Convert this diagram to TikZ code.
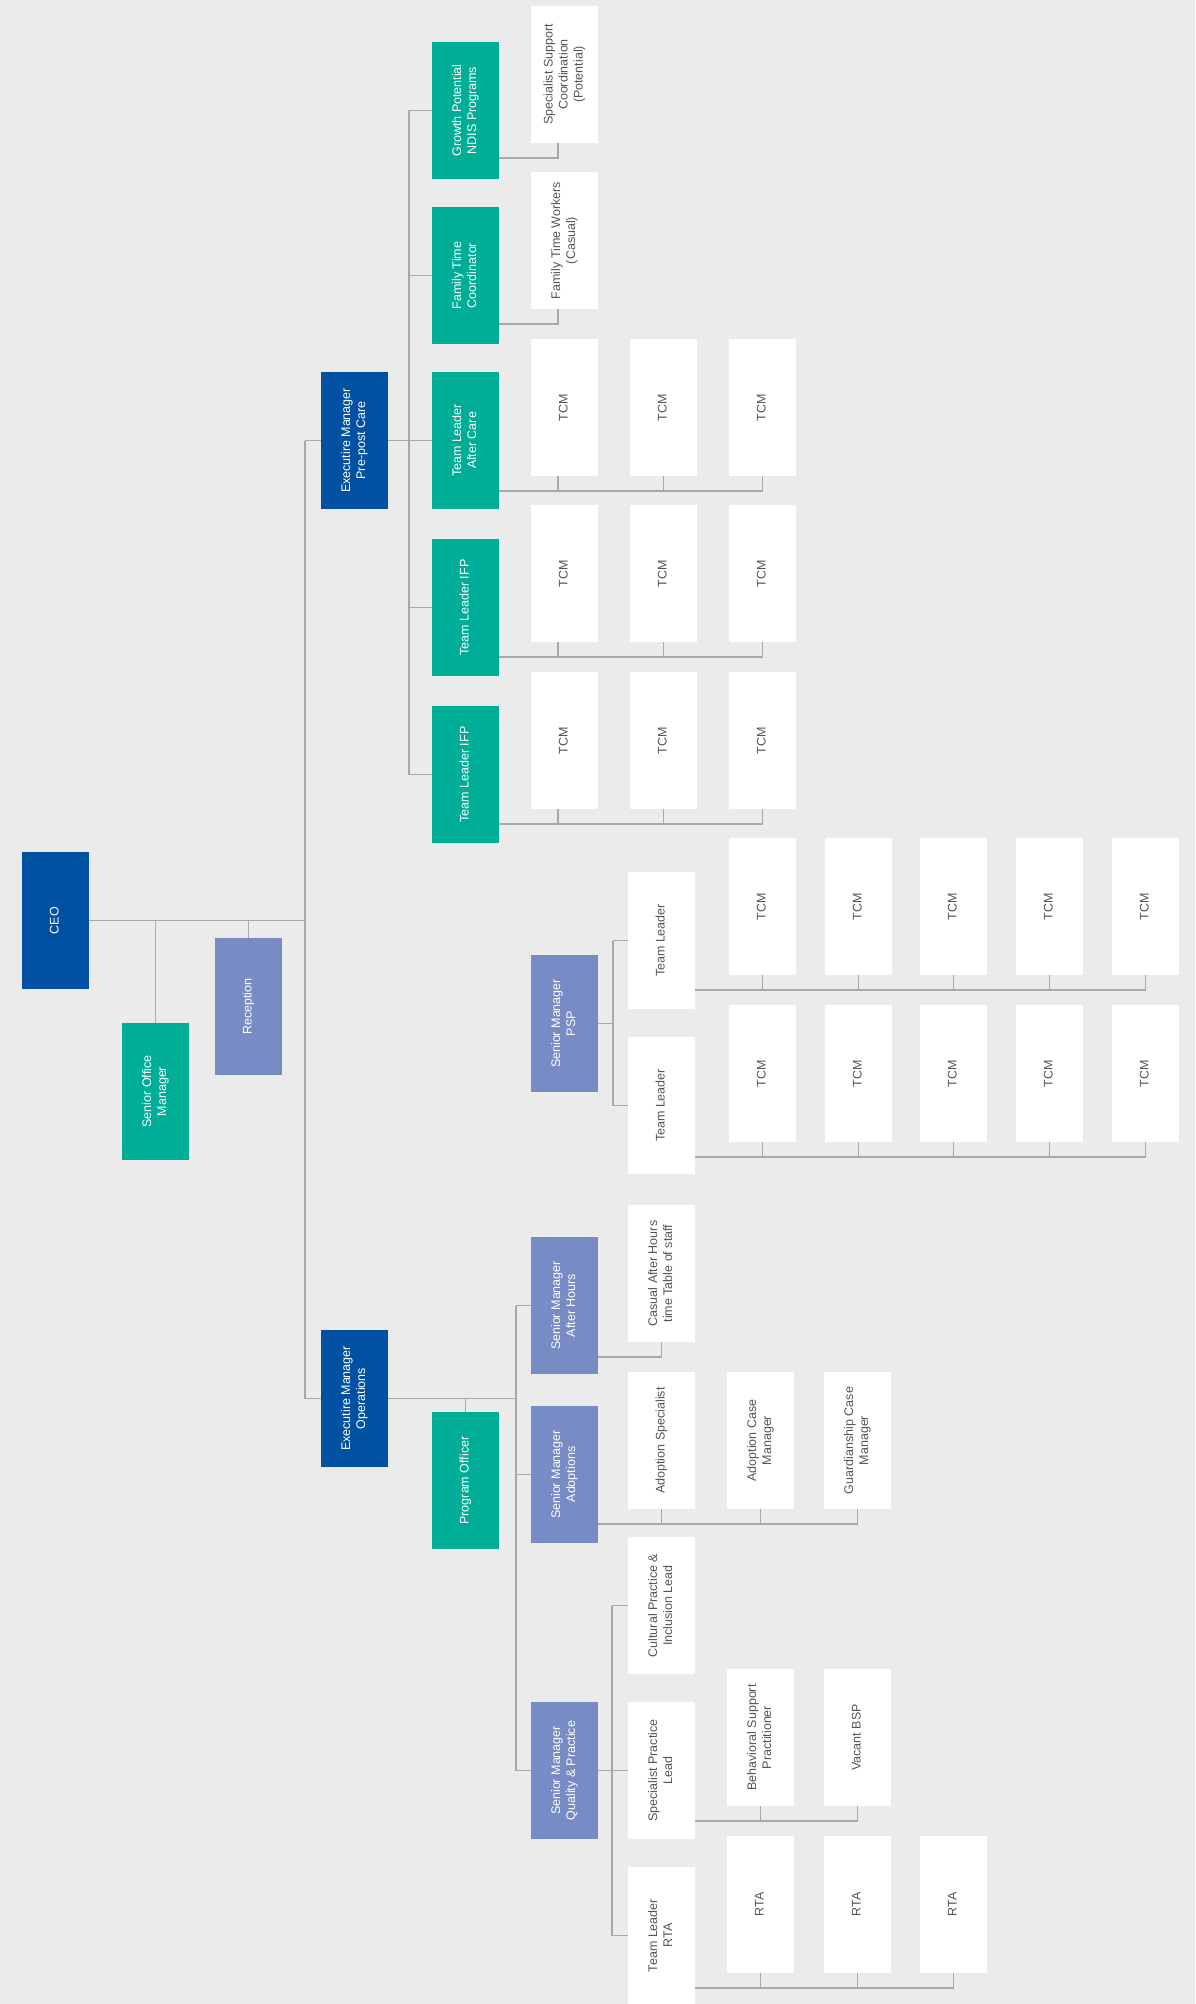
\documentclass[tikz,border=0pt]{standalone}
\usepackage{fontspec}
\setmainfont{Liberation Sans}
\usepackage{graphicx}
\usetikzlibrary{calc}
\definecolor{bgcol}{HTML}{EBEBEB}
\definecolor{dkblue}{HTML}{0051A1}
\definecolor{tealcol}{HTML}{00AE98}
\definecolor{pericol}{HTML}{778BC5}
\definecolor{linegray}{HTML}{A8A8A8}
\definecolor{txtgray}{HTML}{555555}
\newcommand{\vtxt}[1]{\rotatebox{90}{\begin{tabular}{@{}c@{}}#1\end{tabular}}}
\begin{document}
\begin{tikzpicture}[x=1pt,y=-1pt,
  box/.style={anchor=north west, minimum width=67pt, minimum height=137pt, inner sep=0pt, outer sep=0pt, font=\fontsize{12.5}{15}\selectfont},
  darkbox/.style={box, fill=dkblue, text=white},
  tealbox/.style={box, fill=tealcol, text=white},
  peribox/.style={box, fill=pericol, text=white},
  wbox/.style={box, fill=white, text=txtgray},
  conn/.style={draw=linegray, line width=1.3pt}]
\useasboundingbox (0,0) rectangle (1195,2004);
\fill[bgcol] (0,0) rectangle (1195,2004);

% ---------- nodes ----------
\node[darkbox] (ceo) at (22,852) {\vtxt{CEO}};
\node[tealbox] (som) at (122,1023) {\vtxt{Senior Office\\Manager}};
\node[peribox] (rec) at (215,938) {\vtxt{Reception}};
\node[darkbox] (empp) at (321,372) {\vtxt{Executire Manager\\Pre-post Care}};
\node[darkbox] (emop) at (321,1330) {\vtxt{Executire Manager\\Operations}};

% Pre-post care branch
\node[tealbox] (gp) at (432,42) {\vtxt{Growth Potential\\NDIS Programs}};
\node[wbox] (ssc) at (531,6) {\vtxt{Specialist Support\\Coordination\\(Potential)}};
\node[tealbox] (ftc) at (432,207) {\vtxt{Family Time\\Coordinator}};
\node[wbox] (ftw) at (531,172) {\vtxt{Family Time Workers\\(Casual)}};
\node[tealbox] (tlac) at (432,372) {\vtxt{Team Leader\\After Care}};
\node[tealbox] (tli) at (432,539) {\vtxt{Team Leader IFP}};
\node[tealbox] (tlj) at (432,706) {\vtxt{Team Leader IFP}};
\foreach \i/\x in {1/531,2/630,3/729}{
  \node[wbox] (a\i) at (\x,339) {\vtxt{TCM}};
  \node[wbox] (b\i) at (\x,505) {\vtxt{TCM}};
  \node[wbox] (c\i) at (\x,672) {\vtxt{TCM}};
}

% PSP
\node[peribox] (psp) at (531,955) {\vtxt{Senior Manager\\PSP}};
\node[wbox] (tlp) at (628,872) {\vtxt{Team Leader}};
\node[wbox] (tlq) at (628,1037) {\vtxt{Team Leader}};
\foreach \i/\x in {1/729,2/825,3/920,4/1016,5/1112}{
  \node[wbox] (d\i) at (\x,838) {\vtxt{TCM}};
  \node[wbox] (e\i) at (\x,1005) {\vtxt{TCM}};
}

% Operations branch
\node[peribox] (smah) at (531,1237) {\vtxt{Senior Manager\\After Hours}};
\node[wbox] (cah) at (628,1205) {\vtxt{Casual After Hours\\time Table of staff}};
\node[tealbox] (po) at (432,1412) {\vtxt{Program Officer}};
\node[peribox] (smad) at (531,1406) {\vtxt{Senior Manager\\Adoptions}};
\node[wbox] (ads) at (628,1372) {\vtxt{Adoption Specialist}};
\node[wbox] (acm) at (727,1372) {\vtxt{Adoption Case\\Manager}};
\node[wbox] (gcm) at (824,1372) {\vtxt{Guardianship Case\\Manager}};
\node[peribox] (smqp) at (531,1702) {\vtxt{Senior Manager\\Quality \& Practice}};
\node[wbox] (cpil) at (628,1537) {\vtxt{Cultural Practice \&\\Inclusion Lead}};
\node[wbox] (spl) at (628,1702) {\vtxt{Specialist Practice\\Lead}};
\node[wbox] (bsp) at (727,1669) {\vtxt{Behavioral Support\\Practitioner}};
\node[wbox] (vbsp) at (824,1669) {\vtxt{Vacant BSP}};
\node[wbox] (tlrta) at (628,1867) {\vtxt{Team Leader\\RTA}};
\foreach \i/\x in {1/727,2/824,3/920}{
  \node[wbox] (r\i) at (\x,1836) {\vtxt{RTA}};
}

% ---------- connectors ----------
% top level
\coordinate (trunk) at ([xshift=216pt]ceo.east);
\draw[conn] (ceo.east) -- (trunk);
\draw[conn] (som.north |- ceo.east) -- (som.north);
\draw[conn] (rec.north |- ceo.east) -- (rec.north);
\draw[conn] (trunk |- empp.west) -- (trunk |- emop.west);
\draw[conn] (trunk |- empp.west) -- (empp.west);
\draw[conn] (trunk |- emop.west) -- (emop.west);

% pre-post care
\coordinate (ppt) at ([xshift=21pt]empp.east);
\draw[conn] (ppt |- gp.west) -- (ppt |- tlj.west);
\foreach \n in {gp,ftc,tli,tlj} \draw[conn] (ppt |- \n.west) -- (\n.west);
\draw[conn] (empp.east) -- (tlac.west);

\coordinate (gb) at ([xshift=-6.5pt,yshift=-15pt]ssc.south);
\draw[conn] (gp.east |- gb) -| ([xshift=-6.5pt]ssc.south);
\coordinate (fb) at ([xshift=-6.5pt,yshift=-15pt]ftw.south);
\draw[conn] (ftc.east |- fb) -| ([xshift=-6.5pt]ftw.south);

\foreach \p/\r in {tlac/a,tli/b,tlj/c}{
  \coordinate (bus) at ([yshift=-15pt]\r3.south);
  \draw[conn] (\p.east |- bus) -| (\r3.south);
  \draw[conn] (\r2.south) -- (\r2.south |- bus);
  \draw[conn] ([xshift=-6.5pt]\r1.south) -- ([xshift=-6.5pt]\r1.south |- bus);
}

% PSP
\coordinate (pst) at ([xshift=15pt]psp.east);
\draw[conn] (psp.east) -- (pst);
\draw[conn] (pst |- tlp.west) -- (pst |- tlq.west);
\draw[conn] (pst |- tlp.west) -- (tlp.west);
\draw[conn] (pst |- tlq.west) -- (tlq.west);
\foreach \p/\r in {tlp/d,tlq/e}{
  \coordinate (bus) at ([yshift=-15pt]\r5.south);
  \draw[conn] (\p.east |- bus) -| (\r5.south);
  \foreach \k in {1,2,3,4} \draw[conn] (\r\k.south) -- (\r\k.south |- bus);
}

% operations
\coordinate (opt) at ([xshift=128pt]emop.east);
\draw[conn] (emop.east) -- (opt);
\draw[conn] (opt |- smah.west) -- (opt |- smqp.west);
\foreach \n in {smah,smad,smqp} \draw[conn] (opt |- \n.west) -- (\n.west);
\draw[conn] (po.north |- emop.east) -- (po.north);

\coordinate (hb) at ([yshift=-15pt]cah.south);
\draw[conn] (smah.east |- hb) -| (cah.south);

\coordinate (adb) at ([yshift=-15pt]gcm.south);
\draw[conn] (smad.east |- adb) -| (gcm.south);
\foreach \n in {ads,acm} \draw[conn] (\n.south) -- (\n.south |- adb);

\coordinate (qpt) at ([xshift=14pt]smqp.east);
\draw[conn] (smqp.east) -- (spl.west);
\draw[conn] (qpt |- cpil.west) -- (qpt |- tlrta.west);
\draw[conn] (qpt |- cpil.west) -- (cpil.west);
\draw[conn] (qpt |- tlrta.west) -- (tlrta.west);

\coordinate (sb) at ([yshift=-15pt]vbsp.south);
\draw[conn] (spl.east |- sb) -| (vbsp.south);
\draw[conn] (bsp.south) -- (bsp.south |- sb);

\coordinate (rb) at ([yshift=-15pt]r3.south);
\draw[conn] (tlrta.east |- rb) -| (r3.south);
\foreach \k in {1,2} \draw[conn] (r\k.south) -- (r\k.south |- rb);
\end{tikzpicture}
\end{document}
